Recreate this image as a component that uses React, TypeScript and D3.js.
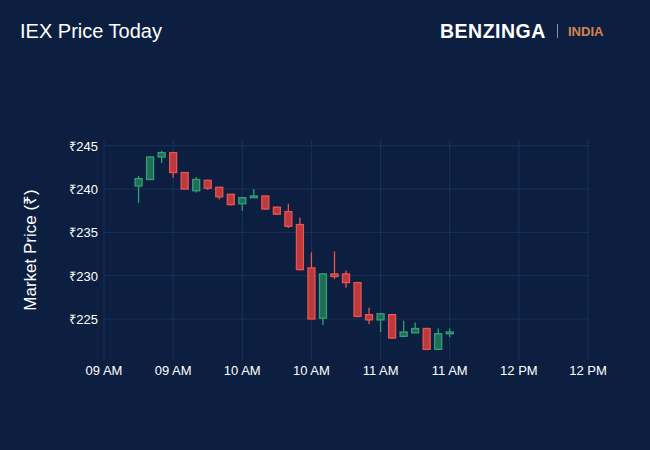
import React from "react";
import * as d3 from "d3";

// 5-minute candles, 09:15 onward
const times = [
  "09:15", "09:20", "09:25", "09:30", "09:35", "09:40", "09:45", "09:50", "09:55",
  "10:00", "10:05", "10:10", "10:15", "10:20", "10:25", "10:30", "10:35", "10:40",
  "10:45", "10:50", "10:55", "11:00", "11:05", "11:10", "11:15", "11:20", "11:25", "11:30",
];
const opens = [
  240.35, 241.1, 243.7, 244.2, 241.9, 239.8, 241.0, 240.2, 239.4,
  238.3, 239.0, 239.2, 237.9, 237.4, 235.9, 230.9, 225.1, 230.2,
  230.2, 229.2, 225.5, 224.9, 225.5, 223.0, 223.4, 223.9, 221.5, 223.3,
];
const highs = [
  241.5, 243.8, 244.4, 244.3, 241.9, 241.4, 241.1, 240.2, 239.4,
  239.0, 240.0, 239.2, 238.0, 238.3, 236.7, 232.7, 230.3, 232.8,
  230.6, 229.3, 226.3, 225.7, 225.6, 224.8, 224.6, 224.0, 223.9, 223.9,
];
const lows = [
  238.4, 241.1, 243.0, 241.3, 240.0, 239.6, 239.9, 238.8, 238.1,
  237.5, 239.0, 237.6, 237.0, 235.5, 230.6, 225.0, 224.3, 229.6,
  228.6, 225.2, 224.4, 223.5, 222.7, 222.9, 223.4, 221.4, 221.5, 222.9,
];
const closes = [
  241.2, 243.7, 244.2, 241.9, 240.0, 241.1, 240.1, 239.1, 238.2,
  239.0, 239.2, 237.7, 237.1, 235.7, 230.7, 225.0, 230.2, 229.9,
  229.2, 225.3, 224.9, 225.6, 222.8, 223.5, 223.9, 221.5, 223.3, 223.5,
];
const yTicks = [225, 230, 235, 240, 245];

const W = 650;
const H = 450;
const BG = "#0c1f40";
const GRID = "#1b3156";
const UP = "#31a077";
const UP_FILL = "#226c56";
const DOWN = "#ec5350";
const DOWN_FILL = "#bb3a3d";
const FONT = "'Liberation Sans', Arial, Helvetica, sans-serif";

const day = (t: string) => {
  const [h, m] = t.split(":").map(Number);
  return new Date(2024, 0, 2, h, m);
};

export default function App() {
  const x = d3.scaleTime().domain([day("09:00"), day("12:30")]).range([104, 588]);
  const y = d3.scaleLinear().domain([225, 245]).range([319, 145.7]);
  const xTicks = x.ticks(d3.timeMinute.every(30)!);
  const fmt = d3.timeFormat("%I %p");
  const candles = times.map((t, i) => ({
    t: day(t),
    o: opens[i],
    h: highs[i],
    l: lows[i],
    c: closes[i],
  }));
  const bw = 7;

  return (
    <div style={{ position: "fixed", left: 0, top: 0 }}>
      <svg width={W} height={H} style={{ display: "block", fontFamily: FONT }}>
        <rect width={W} height={H} fill={BG} />
        <text x={20} y={38} fill="#fff" fontSize={20}>
          IEX Price Today
        </text>
        <text x={440} y={38} fill="#fff" fontSize={19.5} fontWeight="bold" letterSpacing={0.5}>
          BENZINGA
        </text>
        <line x1={557.5} x2={557.5} y1={24} y2={38} stroke="#8a94a6" strokeWidth={1} />
        <text x={568} y={36} fill="#d9824f" fontSize={13} fontWeight="bold">
          INDIA
        </text>

        {/* grid */}
        {yTicks.map((v) => (
          <line key={"h" + v} x1={104} x2={590} y1={y(v)} y2={y(v)} stroke={GRID} strokeWidth={1} />
        ))}
        {xTicks.map((t, i) => (
          <line key={"v" + i} x1={x(t)} x2={x(t)} y1={140} y2={360} stroke={GRID} strokeWidth={1} />
        ))}

        {/* axes labels */}
        {yTicks.map((v) => (
          <text key={"yl" + v} x={98} y={y(v) + 5} fill="#fff" fontSize={13} textAnchor="end">
            {"₹" + v}
          </text>
        ))}
        {xTicks.map((t, i) => (
          <text key={"xl" + i} x={x(t)} y={375} fill="#fff" fontSize={13} textAnchor="middle">
            {fmt(t)}
          </text>
        ))}
        <text
          transform="translate(36,250) rotate(-90)"
          fill="#fff"
          fontSize={17}
          textAnchor="middle"
        >
          Market Price (₹)
        </text>

        {/* candles */}
        {candles.map((d, i) => {
          const up = d.c >= d.o;
          const cx = x(d.t);
          const top = y(Math.max(d.o, d.c));
          const bot = y(Math.min(d.o, d.c));
          return (
            <g key={i}>
              <line x1={cx} x2={cx} y1={y(d.h)} y2={y(d.l)} stroke={up ? UP : DOWN} strokeWidth={1.3} />
              <rect
                x={cx - bw / 2}
                y={top}
                width={bw}
                height={Math.max(bot - top, 1.5)}
                fill={up ? UP_FILL : DOWN_FILL}
                stroke={up ? UP : DOWN}
                strokeWidth={1.3}
              />
            </g>
          );
        })}
      </svg>
    </div>
  );
}
